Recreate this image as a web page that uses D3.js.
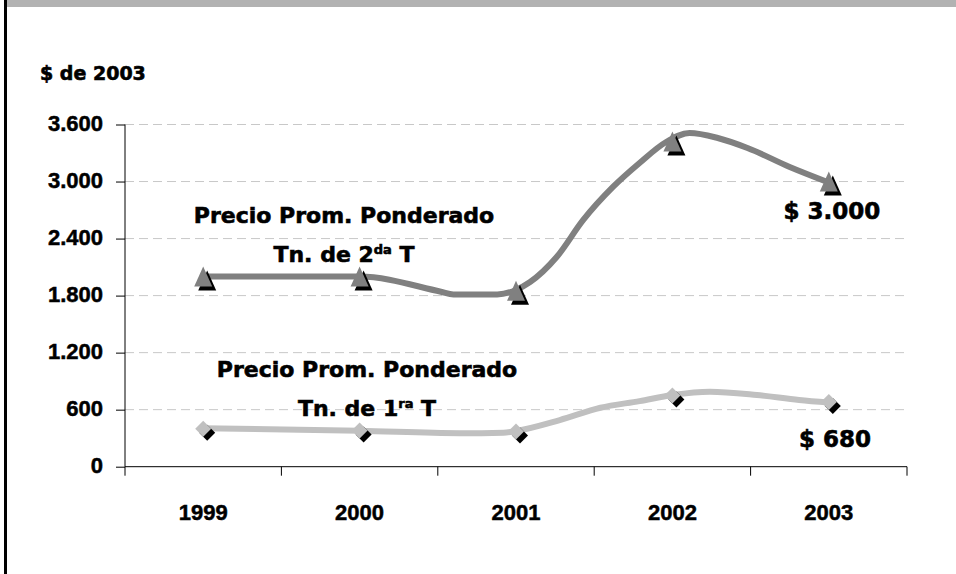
<!DOCTYPE html>
<html>
<head>
  <meta charset="utf-8">
  <title>Precio Prom. Ponderado</title>
  <script src="https://cdn.jsdelivr.net/npm/d3@7"></script>
  <style>
    html, body { margin: 0; padding: 0; background: #fff; }
    svg { display: block; }
    .tick-label { font-family: "Liberation Sans", Arial, sans-serif; font-weight: bold; font-size: 22px; fill: #000; stroke: #000; stroke-width: 0.5px; }
    .note { font-family: "DejaVu Sans", sans-serif; font-weight: bold; fill: #000; stroke: #000; stroke-width: 0.6px; }
  </style>
</head>
<body>
<svg id="chart" width="956" height="574"></svg>
<script>
  // categories and values
  var years = ['1999', '2000', '2001', '2002', '2003'];
  var yTicks = [0, 600, 1200, 1800, 2400, 3000, 3600];
  var segunda = [2000, 2000, 1850, 3420, 3000];   // Tn. de 2da T (markers)
  var primera = [400, 380, 370, 750, 680];        // Tn. de 1ra T (markers)

  // smoothed trend lines (position in years, value)
  var segundaLineT = [1999, 2000, 2000.52, 2000.6, 2000.88, 2001, 2001.09, 2001.26, 2001.43, 2001.62, 2001.79, 2001.96, 2002.11, 2002.29, 2002.48, 2002.75, 2003];
  var segundaLineV = [2000, 2000, 1841, 1812, 1812, 1860, 1943, 2206, 2596, 2943, 3195, 3416, 3510, 3458, 3353, 3153, 2990];
  var primeraLineT = [1999, 2000, 2000.64, 2000.92, 2001, 2001.28, 2001.54, 2001.79, 2002, 2002.24, 2002.54, 2002.81, 2003];
  var primeraLineV = [405, 378, 352, 358, 376, 491, 620, 690, 754, 789, 754, 702, 675];

  var svg = d3.select('#chart');

  // frame: grey band on top, black rule on the left
  svg.append('rect').attr('x', 7).attr('y', 0).attr('width', 949).attr('height', 7).attr('fill', '#b2b2b2');
  svg.append('rect').attr('x', 4).attr('y', 0).attr('width', 3).attr('height', 574).attr('fill', '#000');

  var x = d3.scaleBand().domain(years).range([125, 907]).padding(0);
  var xPos = d3.scaleLinear().domain([1999, 2003])
    .range([x('1999') + x.bandwidth() / 2, x('2003') + x.bandwidth() / 2]);
  var y = d3.scaleLinear().domain([0, 3600]).range([466.7, 124.5]);

  // gridlines
  svg.append('g').selectAll('line')
    .data(yTicks.filter(function(d) { return d > 0; }))
    .enter().append('line')
      .attr('x1', 125).attr('x2', 907)
      .attr('y1', function(d) { return y(d); })
      .attr('y2', function(d) { return y(d); })
      .attr('stroke', '#c8c8c8')
      .attr('stroke-width', 1)
      .attr('stroke-dasharray', '9,5');

  // y axis
  var yAxis = svg.append('g').attr('transform', 'translate(125,0)')
    .call(d3.axisLeft(y).tickValues(yTicks).tickSize(9).tickFormat(''));
  yAxis.select('.domain').attr('d', 'M0,' + y(3600) + 'V' + y(0)).attr('stroke', '#000');
  yAxis.selectAll('.tick line').attr('stroke', '#000');

  svg.append('g').selectAll('text')
    .data(yTicks)
    .enter().append('text')
      .attr('class', 'tick-label')
      .attr('x', 103)
      .attr('y', function(d) { return y(d) + 6; })
      .attr('text-anchor', 'end')
      .text(function(d) { return d3.format(',')(d).replace(',', '.'); });

  // x axis with ticks between the categories
  var bounds = years.map(function(d) { return x(d); }).concat([x.range()[1]]);
  var xAxis = svg.append('g');
  xAxis.append('line')
    .attr('x1', 125).attr('x2', 907)
    .attr('y1', y(0)).attr('y2', y(0))
    .attr('stroke', '#000');
  xAxis.selectAll('.xt').data(bounds).enter().append('line')
    .attr('class', 'xt')
    .attr('x1', function(d) { return d; }).attr('x2', function(d) { return d; })
    .attr('y1', y(0)).attr('y2', y(0) + 9)
    .attr('stroke', '#000');
  xAxis.selectAll('text').data(years).enter().append('text')
    .attr('class', 'tick-label')
    .attr('x', function(d) { return x(d) + x.bandwidth() / 2; })
    .attr('y', 520)
    .attr('text-anchor', 'middle')
    .text(function(d) { return d; });

  // lines
  var line = d3.line()
    .x(function(d) { return xPos(d[0]); })
    .y(function(d) { return y(d[1]); })
    .curve(d3.curveMonotoneX);

  svg.append('path')
    .datum(d3.zip(primeraLineT, primeraLineV))
    .attr('d', line)
    .attr('fill', 'none')
    .attr('stroke', '#c0c0c0')
    .attr('stroke-width', 6)
    .attr('stroke-linejoin', 'round');

  svg.append('path')
    .datum(d3.zip(segundaLineT, segundaLineV))
    .attr('d', line)
    .attr('fill', 'none')
    .attr('stroke', '#808080')
    .attr('stroke-width', 6)
    .attr('stroke-linejoin', 'round');

  // markers with black shadow
  var tri = 'M0,-10L9,10L-9,10Z';
  var dia = 'M0,-8L8,0L0,8L-8,0Z';

  function markers(data, shape, fill) {
    var g = svg.append('g');
    g.selectAll('.shadow').data(data).enter().append('path')
      .attr('class', 'shadow')
      .attr('d', shape)
      .attr('fill', '#000')
      .attr('transform', function(d, i) { return 'translate(' + (xPos(1999 + i) + 4) + ',' + (y(d) + 4) + ')'; });
    g.selectAll('.mark').data(data).enter().append('path')
      .attr('class', 'mark')
      .attr('d', shape)
      .attr('fill', fill)
      .attr('transform', function(d, i) { return 'translate(' + xPos(1999 + i) + ',' + y(d) + ')'; });
  }
  markers(primera, dia, '#c0c0c0');
  markers(segunda, tri, '#808080');

  // texts
  svg.append('text').attr('class', 'note').attr('x', 40).attr('y', 80)
    .style('font-size', '19px').text('$ de 2003');

  function label(cx, by, sup) {
    svg.append('text').attr('class', 'note')
      .attr('x', cx).attr('y', by)
      .attr('text-anchor', 'middle')
      .style('font-size', '22px')
      .text('Precio Prom. Ponderado');
    var t = svg.append('text').attr('class', 'note')
      .attr('x', cx).attr('y', by + 39)
      .attr('text-anchor', 'middle')
      .style('font-size', '22px');
    t.append('tspan').text('Tn. de ' + sup[0]);
    t.append('tspan').attr('dy', -8).style('font-size', '13px').text(sup[1]);
    t.append('tspan').attr('dy', 8).text(' T');
  }
  label(344, 223, ['2', 'da']);
  label(367, 377, ['1', 'ra']);

  svg.append('text').attr('class', 'note')
    .attr('x', 832).attr('y', 219).attr('text-anchor', 'middle')
    .style('font-size', '23px')
    .text('$ ' + d3.format(',')(segunda[4]).replace(',', '.'));
  svg.append('text').attr('class', 'note')
    .attr('x', 835).attr('y', 447).attr('text-anchor', 'middle')
    .style('font-size', '23px')
    .text('$ ' + primera[4]);
</script>
</body>
</html>
